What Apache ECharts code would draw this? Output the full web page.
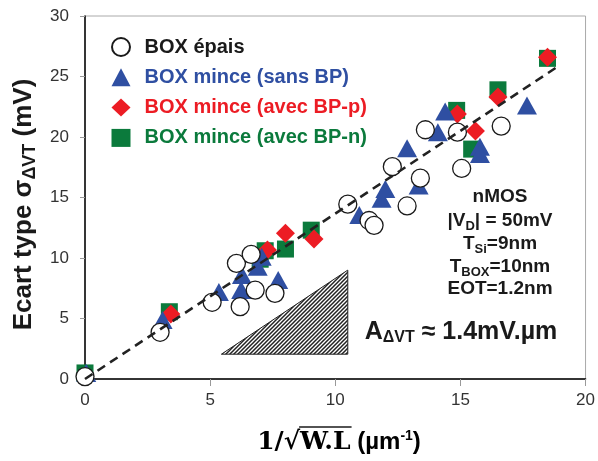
<!DOCTYPE html>
<html><head><meta charset="utf-8">
<script src="https://cdn.jsdelivr.net/npm/echarts@6/dist/echarts.min.js"></script>
<style>html,body{margin:0;padding:0;background:#fff}#c{width:598px;height:461px}</style>
</head><body><div id="c"></div>
<script>
// ---- data ----
const epaisX = [0.0, 3.0, 5.08, 6.2, 6.05, 6.64, 6.8, 7.59, 10.5, 11.35, 11.55, 12.28, 12.87, 13.4, 13.6, 14.88, 15.05, 16.63];
const epaisY = [0.2, 3.86, 6.34, 5.98, 9.56, 10.3, 7.35, 7.08, 14.45, 13.1, 12.7, 17.55, 14.3, 16.6, 20.6, 20.4, 17.4, 20.9];
const sansX = [0.05, 3.1, 5.35, 6.24, 6.27, 6.9, 7.06, 7.72, 10.96, 11.85, 12.0, 12.87, 13.33, 14.1, 14.39, 15.78, 15.78, 17.66];
const sansY = [0.5, 4.88, 7.2, 7.35, 8.6, 9.28, 10.1, 8.18, 13.55, 14.9, 15.7, 19.07, 16.0, 20.4, 22.1, 19.2, 18.6, 22.6];
const bppX = [3.43, 7.29, 8.01, 9.15, 14.88, 15.6, 16.5, 18.48];
const bppY = [5.37, 10.66, 12.04, 11.57, 21.9, 20.5, 23.3, 26.6];
const bpnX = [0.0, 3.37, 7.0, 7.2, 8.01, 9.04, 14.85, 15.45, 16.5, 18.48];
const bpnY = [0.5, 5.56, 9.9, 10.6, 10.74, 12.3, 22.2, 19.0, 23.9, 26.5];
const fitX = [0, 18.8];
const fitY = [0, 25.7];
const hatchX = [5.45, 10.5, 10.5];
const hatchY = [2.05, 2.05, 9.0];
const xTicks = [0, 5, 10, 15, 20];
const yTicks = [0, 5, 10, 15, 20, 25, 30];
const seriesNames = ['BOX épais', 'BOX mince (sans BP)', 'BOX mince (avec BP-p)', 'BOX mince (avec BP-n)'];
// -------------

const zip = (xs, ys) => xs.map((x, i) => [x, ys[i]]);
const BLUE = '#2f4fa2', RED = '#ec1c24', GREEN = '#0b7a3c', BLACK = '#1a1a1a';
const SANS = '"Liberation Sans", Arial, sans-serif';

// hatch pattern
const pc = document.createElement('canvas');
pc.width = 4; pc.height = 4;
const g = pc.getContext('2d');
g.fillStyle = '#fff'; g.fillRect(0, 0, 4, 4);
g.strokeStyle = '#222'; g.lineWidth = 1.5;
g.beginPath();
g.moveTo(-1, 5); g.lineTo(5, -1);
g.moveTo(-1, 1); g.lineTo(1, -1);
g.moveTo(3, 5); g.lineTo(5, 3);
g.stroke();

const chart = echarts.init(document.getElementById('c'));
const subStyle = (fs) => ({ fontSize: fs, fontWeight: 'bold', fontFamily: SANS, color: BLACK, padding: [Math.round(fs * 0.75), 0, 0, 0] });

chart.setOption({
  animation: false,
  grid: { left: 85, right: 7, top: 16, bottom: 82, show: true, borderColor: '#aaaaaa', borderWidth: 1 },
  xAxis: {
    type: 'value', min: xTicks[0], max: xTicks[xTicks.length - 1], interval: 5,
    axisLine: { show: true, onZero: false, lineStyle: { color: '#000', width: 1.5 } },
    axisTick: { show: true, length: 7, lineStyle: { color: '#999' } },
    axisLabel: { margin: 13, fontSize: 17, fontFamily: SANS, color: '#333' },
    splitLine: { show: false }
  },
  yAxis: {
    type: 'value', min: yTicks[0], max: yTicks[yTicks.length - 1], interval: 5,
    axisLine: { show: true, onZero: false, lineStyle: { color: '#000', width: 1.5 } },
    axisTick: { show: true, length: 5, lineStyle: { color: '#999' } },
    axisLabel: { margin: 16, fontSize: 17, fontFamily: SANS, color: '#333' },
    splitLine: { show: false },
    name: 'Ecart type σ{sub|ΔVT} (mV)',
    nameLocation: 'middle', nameRotate: 90, nameGap: 38,
    nameTextStyle: {
      fontSize: 26, fontWeight: 'bold', fontFamily: SANS, color: BLACK, padding: [0, 14, 0, 0],
      rich: { sub: { fontSize: 18, fontWeight: 'bold', fontFamily: SANS, color: BLACK, padding: [12, 0, 0, 0] } }
    }
  },
  legend: {
    orient: 'vertical', left: 111, top: 37, padding: 0,
    itemWidth: 19, itemHeight: 18, itemGap: 10.3,
    data: [
      { name: seriesNames[0], textStyle: { color: BLACK } },
      { name: seriesNames[1], textStyle: { color: BLUE } },
      { name: seriesNames[2], textStyle: { color: RED } },
      { name: seriesNames[3], textStyle: { color: GREEN } }
    ],
    textStyle: { fontSize: 20, fontWeight: 'bold', fontFamily: SANS, lineHeight: 18, padding: [0, 0, 0, 9] }
  },
  series: [
    {
      type: 'custom', silent: true, z: 1,
      data: zip(hatchX, hatchY),
      renderItem: (params, api) => {
        if (params.dataIndex !== 0) return;
        const pts = hatchX.map((x, i) => api.coord([x, hatchY[i]]));
        return { type: 'polygon', shape: { points: pts },
          style: { fill: { image: pc, repeat: 'repeat' }, stroke: '#222', lineWidth: 1 } };
      }
    },
    { name: seriesNames[3], type: 'scatter', z: 2, symbol: 'rect', symbolSize: 17,
      itemStyle: { color: GREEN, opacity: 1 }, data: zip(bpnX, bpnY) },
    { name: seriesNames[2], type: 'scatter', z: 3, symbol: 'diamond', symbolSize: 19,
      itemStyle: { color: RED, opacity: 1 }, data: zip(bppX, bppY) },
    { name: seriesNames[1], type: 'scatter', z: 4, symbol: 'triangle', symbolSize: [20, 18],
      itemStyle: { color: BLUE, opacity: 1 }, data: zip(sansX, sansY) },
    { name: seriesNames[0], type: 'scatter', z: 5, symbol: 'circle', symbolSize: 18,
      itemStyle: { color: '#fff', borderColor: BLACK, borderWidth: 1.3, opacity: 1 }, data: zip(epaisX, epaisY) },
    { type: 'line', z: 6, silent: true, symbol: 'none', data: zip(fitX, fitY),
      lineStyle: { color: '#222', width: 2.6, type: [9, 6] } }
  ],
  graphic: [
    { type: 'text', x: 500, y: 197, style: { text: 'nMOS', font: 'bold 19px ' + SANS, fill: BLACK, align: 'center', verticalAlign: 'middle' } },
    { type: 'text', x: 500, y: 221, style: { text: '|V{sub|D}| = 50mV', font: 'bold 19px ' + SANS, fill: BLACK, align: 'center', verticalAlign: 'middle',
        rich: { sub: subStyle(13) } } },
    { type: 'text', x: 500, y: 244, style: { text: 'T{sub|Si}=9nm', font: 'bold 19px ' + SANS, fill: BLACK, align: 'center', verticalAlign: 'middle',
        rich: { sub: subStyle(13) } } },
    { type: 'text', x: 500, y: 267, style: { text: 'T{sub|BOX}=10nm', font: 'bold 19px ' + SANS, fill: BLACK, align: 'center', verticalAlign: 'middle',
        rich: { sub: subStyle(13) } } },
    { type: 'text', x: 500, y: 289, style: { text: 'EOT=1.2nm', font: 'bold 19px ' + SANS, fill: BLACK, align: 'center', verticalAlign: 'middle' } },
    { type: 'text', x: 461, y: 332, style: { text: 'A{sub|ΔVT} ≈ 1.4mV.µm', font: 'bold 25px ' + SANS, fill: BLACK, align: 'center', verticalAlign: 'middle',
        rich: { sub: subStyle(16) } } },
    { type: 'text', x: 339, y: 442, style: {
        text: '{m|1/√W.L}{s| (µm}{sup|-1}{s|)}', align: 'center', verticalAlign: 'middle',
        rich: {
          m: { fontSize: 25, fontWeight: 'bold', fontFamily: '"DejaVu Serif", serif', color: BLACK },
          s: { fontSize: 24, fontWeight: 'bold', fontFamily: SANS, color: BLACK },
          sup: { fontSize: 14, fontWeight: 'bold', fontFamily: SANS, color: BLACK, padding: [0, 0, 12, 0] }
        } } }
  ]
});
// overline of the square root, placed from the measured text width
(function () {
  const ctx = document.createElement('canvas').getContext('2d');
  ctx.font = 'bold 25px "DejaVu Serif", serif';
  const wM = ctx.measureText('1/√W.L').width, wPre = ctx.measureText('1/√').width;
  ctx.font = 'bold 24px ' + SANS;
  const wS = ctx.measureText(' (µm').width + ctx.measureText(')').width;
  ctx.font = 'bold 14px ' + SANS;
  const wSup = ctx.measureText('-1').width;
  const total = wM + wS + wSup;
  const x0 = 339 - total / 2;
  chart.setOption({ graphic: [{ type: 'line', id: 'ovl',
    shape: { x1: x0 + wPre - 1, y1: 427, x2: x0 + wM + 1, y2: 427 },
    style: { stroke: BLACK, lineWidth: 1.6 } }] });
})();
</script>
</body></html>
